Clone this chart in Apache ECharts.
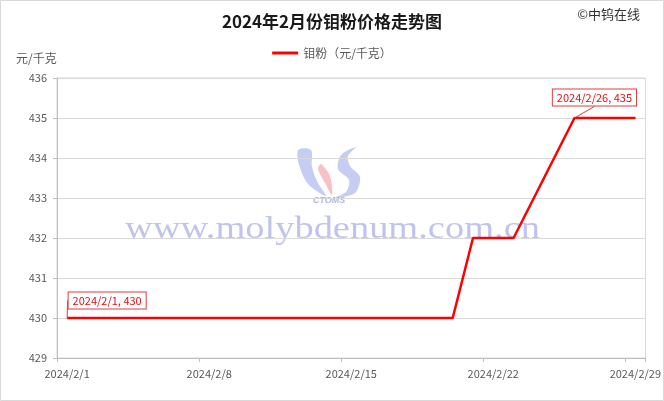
<!DOCTYPE html>
<html>
<head>
<meta charset="utf-8">
<script src="https://cdn.jsdelivr.net/npm/echarts@6/dist/echarts.min.js"></script>
<style>html,body{margin:0;padding:0;background:#fff}#c{width:664px;height:401px}</style>
</head>
<body>
<div id="c"></div>
<script>
// All calendar days on the date axis (Feb 2024)
const dayLabels = [];
for (let d = 1; d <= 29; d++) dayLabels.push('2024/2/' + d);
// Price observations (trading days)
const obsDates = ['2024/2/1','2024/2/2','2024/2/5','2024/2/6','2024/2/7','2024/2/8','2024/2/9',
  '2024/2/12','2024/2/13','2024/2/14','2024/2/15','2024/2/16','2024/2/19','2024/2/20',
  '2024/2/21','2024/2/22','2024/2/23','2024/2/26','2024/2/27','2024/2/28','2024/2/29'];
const obsPrices = [430,430,430,430,430,430,430,430,430,430,430,430,430,430,432,432,432,435,435,435,435];
const annotated = ['2024/2/1','2024/2/26'];
const yTicks = [429,430,431,432,433,434,435,436];

const font = '"Noto Sans CJK SC", "Liberation Sans", sans-serif';
const red = '#ff0000';

const seriesData = obsDates.map((d, i) => {
  const item = { value: [d, obsPrices[i]] };
  if (annotated.includes(d)) {
    item.label = { show: true, formatter: d + ', ' + obsPrices[i] };
  }
  return item;
});

const wmBlue = 'rgba(120,135,225,0.42)';
const chart = echarts.init(document.getElementById('c'));
chart.setOption({
  backgroundColor: '#fff',
  animation: false,
  title: {
    text: '2024年2月份钼粉价格走势图',
    left: 'center', top: 8,
    textStyle: { fontFamily: font, fontSize: 17, fontWeight: 'bold', color: '#1a1a1a' }
  },
  graphic: [
    { type: 'rect', shape: { x: 0.5, y: 0.5, width: 663, height: 400 }, style: { fill: 'none', stroke: '#d9d9d9', lineWidth: 1 }, silent: true },
    { type: 'text', right: 24, top: 8, style: { text: '©中钨在线', font: '13px ' + font, fill: '#333' } },
    { type: 'text', left: 16, top: 52, style: { text: '元/千克', font: '12px ' + font, fill: '#595959' } },
    { type: 'text', x: 125, y: 214, scaleX: 1.24, z: 0, silent: true,
      style: { text: 'www.molybdenum.com.cn', font: '31px "Liberation Serif", "DejaVu Serif", serif', fill: 'rgba(150,155,225,0.6)' } },
    // logo swooshes
    { type: 'polygon', z: 0, silent: true, shape: { smooth: 0.3, points: [[298,150],[300,168],[309,185],[326,196],[318,183],[312,167],[311,150]] }, style: { fill: wmBlue } },
    { type: 'polygon', z: 0, silent: true, shape: { smooth: 0.3, points: [[321,164],[330,176],[332,195],[325,183],[318,169]] }, style: { fill: 'rgba(235,120,130,0.45)' } },
    { type: 'polygon', z: 0, silent: true, shape: { smooth: 0.3, points: [[356,147],[341,155],[338,169],[349,180],[346,192],[334,198],[355,193],[360,177],[350,166],[348,156]] }, style: { fill: wmBlue } },
    { type: 'text', x: 313, y: 196, z: 0, silent: true, style: { text: 'CTOMS', font: 'italic bold 9px "Liberation Sans", sans-serif', fill: 'rgba(120,135,200,0.6)' } }
  ],
  legend: {
    top: 42, left: 'center',
    icon: 'rect', itemWidth: 26, itemHeight: 3, itemGap: 4,
    textStyle: { fontFamily: font, fontSize: 12, color: '#595959' },
    data: ['钼粉（元/千克）']
  },
  grid: { left: 57, right: 18, top: 78, bottom: 43, show: true, borderColor: '#d9d9d9', borderWidth: 1 },
  xAxis: {
    type: 'category',
    data: dayLabels,
    boundaryGap: true,
    axisLine: { lineStyle: { color: '#bfbfbf' } },
    axisTick: { show: true, interval: 6, length: 4, lineStyle: { color: '#bfbfbf' } },
    axisLabel: { interval: 6, color: '#595959', fontFamily: font, fontSize: 11, margin: 10 },
    splitLine: { show: false }
  },
  yAxis: {
    type: 'value',
    min: yTicks[0], max: yTicks[yTicks.length - 1], interval: 1,
    axisLine: { show: true, lineStyle: { color: '#bfbfbf' } },
    axisTick: { show: true, length: 4, lineStyle: { color: '#bfbfbf' } },
    axisLabel: { color: '#595959', fontFamily: font, fontSize: 11, margin: 10 },
    splitLine: { lineStyle: { color: '#d9d9d9' } }
  },
  series: [{
    name: '钼粉（元/千克）',
    type: 'line',
    data: seriesData,
    symbol: 'circle', symbolSize: 1,
    itemStyle: { color: red },
    lineStyle: { color: red, width: 2.5 },
    z: 5,
    label: {
      show: false, position: 'top', distance: 9,
      backgroundColor: '#fff', borderColor: '#e03c3c', borderWidth: 1,
      padding: [3, 4, 2, 4],
      color: '#e01010', fontFamily: font, fontSize: 11
    },
    labelLine: { show: true, lineStyle: { color: '#e03c3c', width: 1 } },
    labelLayout: function (p) {
      return p.dataIndex === 0 ? { dx: 40, dy: 0 } : { dx: 20, dy: -3 };
    }
  }]
});
</script>
</body>
</html>
